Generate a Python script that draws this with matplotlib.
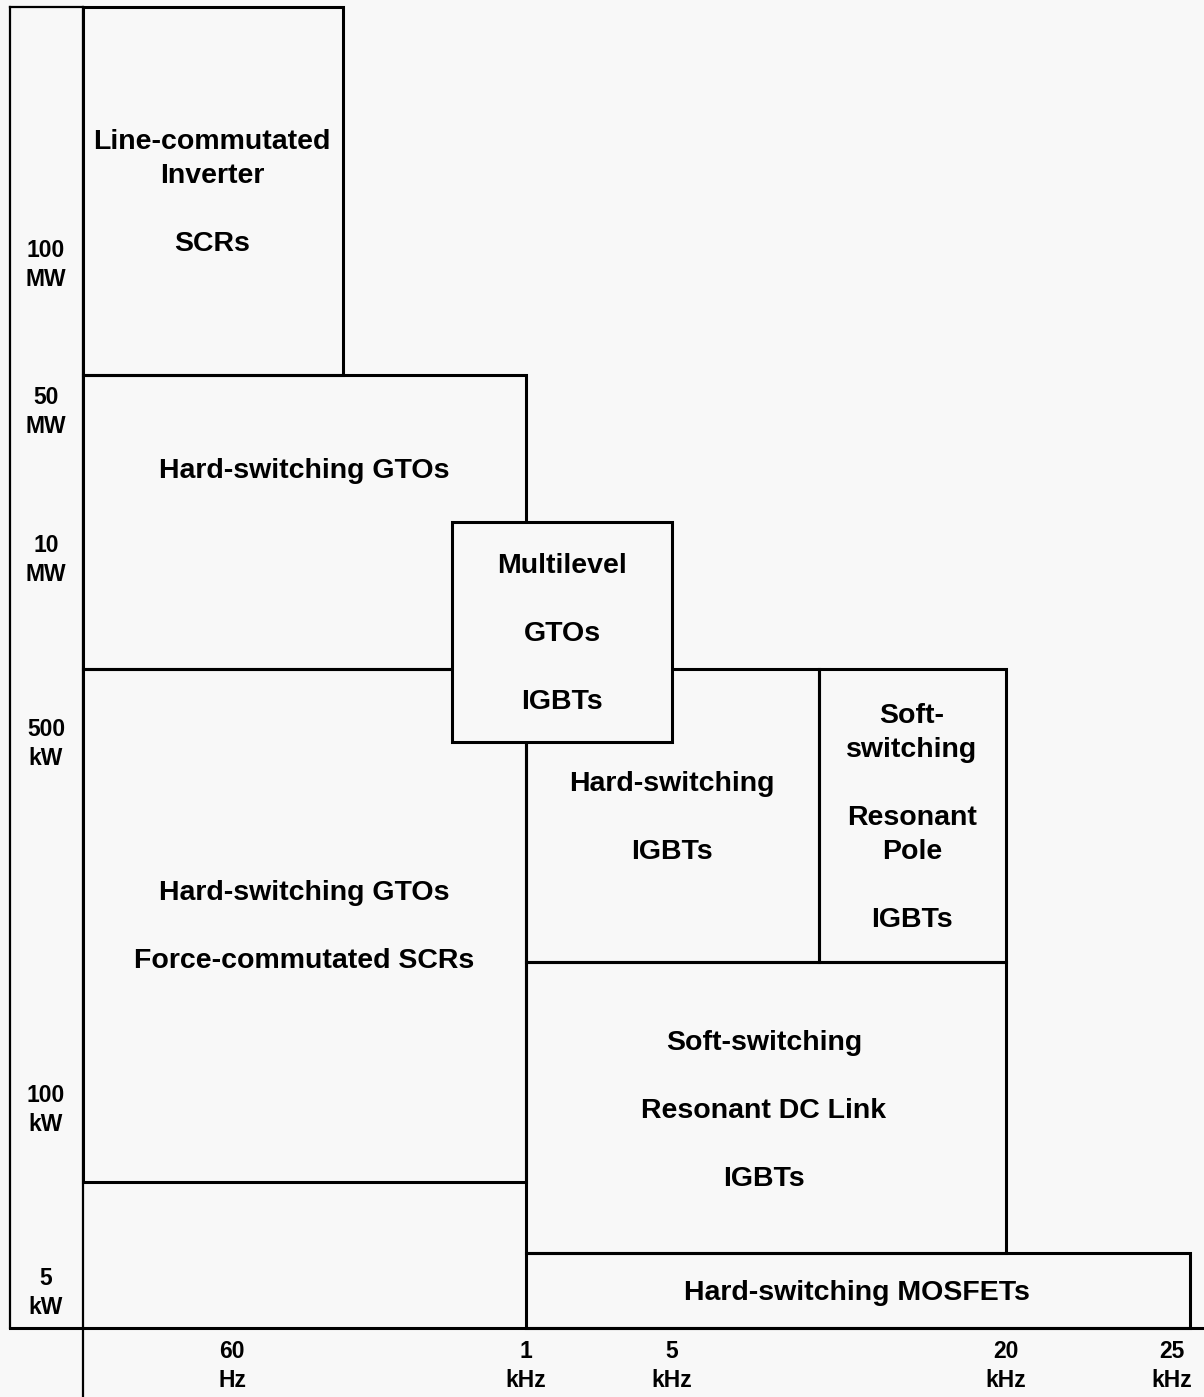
import matplotlib.pyplot as plt
from matplotlib.patches import Rectangle

# diagram units (frequency runs left->right, power runs top->bottom)
W, H = 1204, 1397
bg = '#f8f8f8'

# axis tick labels and where they sit
freq_labels = ['60\nHz', '1\nkHz', '5\nkHz', '20\nkHz', '25\nkHz']
freq_pos = [232, 526, 672, 1006, 1172]
power_labels = ['100\nMW', '50\nMW', '10\nMW', '500\nkW', '100\nkW', '5\nkW']
power_pos = [265, 412, 560, 744, 1110, 1293]

# boxes: left, right, top, bottom edges
box_left = [83, 83, 83, 526, 819, 526, 526, 452]
box_right = [343, 526, 526, 819, 1006, 1006, 1190, 672]
box_top = [7, 375, 669, 669, 669, 962, 1253, 522]
box_bottom = [375, 669, 1182, 962, 962, 1253, 1328, 742]
box_text = [
    ['Line-commutated', 'Inverter', '', 'SCRs'],
    ['Hard-switching GTOs'],
    ['Hard-switching GTOs', '', 'Force-commutated SCRs'],
    ['Hard-switching', '', 'IGBTs'],
    ['Soft-', 'switching', '', 'Resonant', 'Pole', '', 'IGBTs'],
    ['Soft-switching', '', 'Resonant DC Link', '', 'IGBTs'],
    ['Hard-switching MOSFETs'],
    ['Multilevel', '', 'GTOs', '', 'IGBTs'],
]
text_x = [212, 304, 304, 672, 912, 764, 857, 562]
text_y = [193, 471, 927, 818, 818, 1111, 1293, 634]
pitch = 34

fig = plt.figure(figsize=(W / 100, H / 100), dpi=100, facecolor=bg)
ax = fig.add_axes([0, 0, 1, 1])
ax.set_xlim(0, W)
ax.set_ylim(H, 0)
ax.set_facecolor(bg)
ax.axis('off')

font = dict(family=['Liberation Sans', 'DejaVu Sans'], weight='bold', color='black')

# frame lines
ax.plot([10, 10], [7, 1328], color='black', lw=1.6)
ax.plot([83, 83], [7, H], color='black', lw=1.6)
ax.plot([10, 83], [7, 7], color='black', lw=1.6)
ax.plot([10, W], [1328, 1328], color='black', lw=2.2)

for i in range(len(box_left)):
    last = i == len(box_left) - 1  # multilevel box sits on top of the others
    r = Rectangle((box_left[i], box_top[i]), box_right[i] - box_left[i],
                  box_bottom[i] - box_top[i], lw=2.2, edgecolor='black',
                  facecolor=bg if last else 'none', zorder=4 if last else 2)
    ax.add_patch(r)
    lines = box_text[i]
    y0 = text_y[i] - pitch * (len(lines) - 1) / 2
    for j, s in enumerate(lines):
        if s:
            ax.text(text_x[i], y0 + j * pitch, s, ha='center', va='center',
                    fontsize=20.5, zorder=5, **font)

for s, y in zip(power_labels, power_pos):
    ax.text(46, y, s, ha='center', va='center', fontsize=16.5,
            linespacing=1.35, **font)
for s, x in zip(freq_labels, freq_pos):
    ax.text(x, 1366, s, ha='center', va='center', fontsize=16.5,
            linespacing=1.35, **font)

fig.savefig('out.png', dpi=100, facecolor=bg)
